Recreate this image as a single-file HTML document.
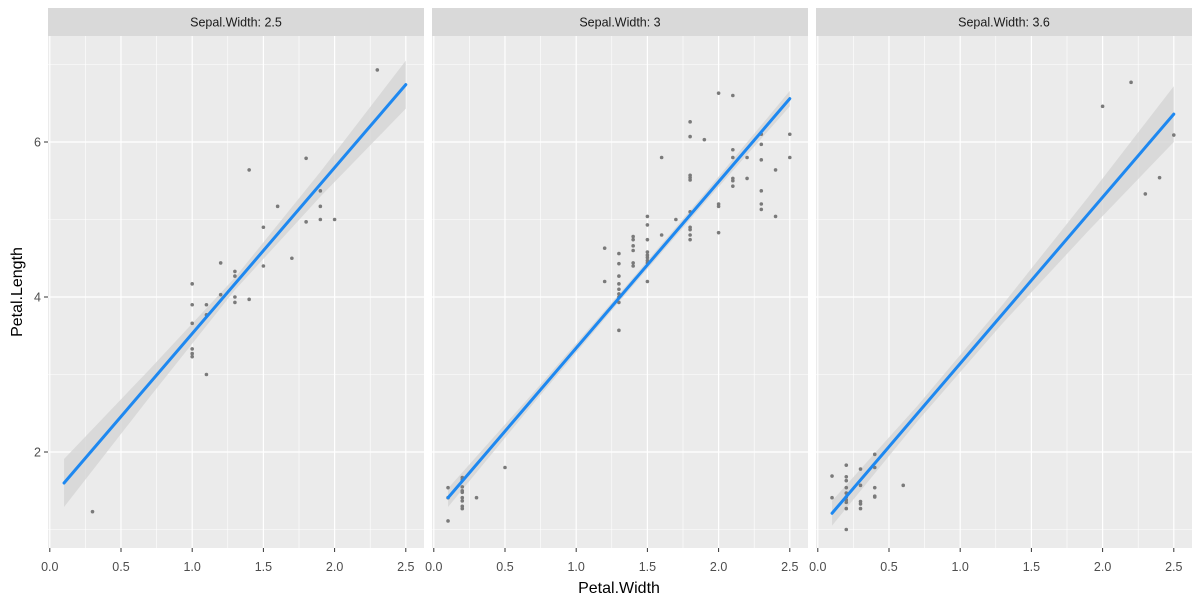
<!DOCTYPE html>
<html><head><meta charset="utf-8"><style>
html,body{margin:0;padding:0;background:#fff;}
svg{display:block;font-family:"Liberation Sans",Arial,sans-serif;}
</style></head><body>
<svg id="chart" width="1200" height="603" viewBox="0 0 1200 603"></svg>
<script>
const facetLabels = ["Sepal.Width: 2.5", "Sepal.Width: 3", "Sepal.Width: 3.6"];
const xTicks = [0.0, 0.5, 1.0, 1.5, 2.0, 2.5];
const xTickLabels = ["0.0", "0.5", "1.0", "1.5", "2.0", "2.5"];
const yTicks = [2, 4, 6];
const yTickLabels = ["2", "4", "6"];
const yMinor = [1, 3, 5, 7];
const xMinor = [0.25, 0.75, 1.25, 1.75, 2.25];

const p1x = [0.3,2.3,1.8,1.4,1.9,1.6,1.9,1.8,1.9,2.0,1.5,1.7,1.5,1.2,1.3,1.3,1.0,1.2,1.3,1.4,1.3,1.0,1.1,1.1,1.0,1.0,1.0,1.0,1.1];
const p1y = [1.23,6.93,5.79,5.64,5.37,5.17,5.17,4.97,5.0,5.0,4.9,4.5,4.4,4.44,4.33,4.27,4.17,4.03,4.0,3.97,3.93,3.9,3.9,3.77,3.66,3.33,3.27,3.23,3.0];
const p2x = [0.1,0.1,0.1,0.2,0.2,0.2,0.2,0.2,0.2,0.2,0.2,0.2,0.3,0.5,1.2,1.2,1.3,1.3,1.3,1.3,1.3,1.3,1.3,1.3,1.3,1.4,1.4,1.4,1.4,1.4,1.4,1.5,1.5,1.5,1.5,1.5,1.5,1.5,1.5,1.5,1.6,1.6,1.7,1.8,1.8,1.8,1.8,1.8,1.8,1.8,1.8,1.8,1.8,1.9,2.0,2.0,2.0,2.0,2.1,2.1,2.1,2.1,2.1,2.1,2.2,2.2,2.3,2.3,2.3,2.3,2.3,2.3,2.4,2.4,2.5,2.5];
const p2y = [1.54,1.41,1.11,1.67,1.64,1.55,1.5,1.48,1.41,1.37,1.3,1.27,1.41,1.8,4.63,4.2,4.56,4.43,4.27,4.17,4.1,4.04,4.0,3.93,3.57,4.78,4.74,4.66,4.6,4.44,4.4,5.04,4.93,4.74,4.58,4.54,4.51,4.47,4.44,4.2,5.8,4.8,5.0,6.26,6.07,5.57,5.54,5.51,5.1,4.9,4.87,4.8,4.74,6.03,6.63,5.2,5.17,4.83,6.6,5.9,5.8,5.53,5.5,5.43,5.8,5.53,6.1,5.97,5.77,5.37,5.2,5.13,5.64,5.04,6.1,5.8];
const p3x = [0.1,0.1,0.2,0.2,0.2,0.2,0.2,0.2,0.2,0.2,0.2,0.2,0.3,0.3,0.3,0.3,0.3,0.4,0.4,0.4,0.4,0.4,0.6,2.0,2.2,2.5,2.4,2.3];
const p3y = [1.69,1.41,1.83,1.68,1.63,1.54,1.47,1.42,1.38,1.35,1.27,1.0,1.78,1.57,1.36,1.33,1.27,1.97,1.8,1.54,1.43,1.42,1.57,6.46,6.77,6.09,5.54,5.33];

const fitStart = [1.6, 1.41, 1.21];
const fitEnd = [6.74, 6.56, 6.36];
const bandX = [0.1, 0.7, 1.3, 1.9, 2.5];
const band1 = [0.31, 0.18, 0.08, 0.16, 0.31];
const band2 = [0.12, 0.07, 0.05, 0.06, 0.10];
const band3 = [0.16, 0.10, 0.12, 0.22, 0.36];

const panelsX = [p1x, p2x, p3x], panelsY = [p1y, p2y, p3y], bands = [band1, band2, band3];
const NS = "http://www.w3.org/2000/svg";
const svg = document.getElementById("chart");
const panelLeft = [48, 432, 816], panelW = 376, panelTop = 36, panelBot = 548;
const xMin = -0.0126, pxPerX = 142.4;
function xs(p, v) { return panelLeft[p] + (v - xMin) * pxPerX; }
function ys(v) { return 452 - (v - 2) * 77.5; }
function mk(tag, attrs, parent) {
  const e = document.createElementNS(NS, tag);
  for (const k in attrs) e.setAttribute(k, attrs[k]);
  (parent || svg).appendChild(e);
  return e;
}

for (let p = 0; p < 3; p++) {
  const g = mk("g", {});
  
  
  const bg = mk("rect", {x: panelLeft[p], y: panelTop, width: panelW, height: panelBot - panelTop, fill: "#ebebeb"}, g);
  
  
  yMinor.forEach(v => mk("line", {x1: panelLeft[p], x2: panelLeft[p] + panelW, y1: ys(v), y2: ys(v), stroke: "#fff", "stroke-width": 0.6}, g));
  xMinor.forEach(v => mk("line", {x1: xs(p, v), x2: xs(p, v), y1: panelTop, y2: panelBot, stroke: "#fff", "stroke-width": 0.6}, g));
  yTicks.forEach(v => mk("line", {x1: panelLeft[p], x2: panelLeft[p] + panelW, y1: ys(v), y2: ys(v), stroke: "#fff", "stroke-width": 1.2}, g));
  xTicks.forEach(v => mk("line", {x1: xs(p, v), x2: xs(p, v), y1: panelTop, y2: panelBot, stroke: "#fff", "stroke-width": 1.2}, g));
  const st = mk("rect", {x: panelLeft[p], y: 8, width: panelW, height: 28, fill: "#d9d9d9"}, g);
  
  
  const stt = mk("text", {x: panelLeft[p] + panelW / 2, y: 26.5, "text-anchor": "middle", "font-size": 12.5, fill: "#1a1a1a"}, g);
  stt.textContent = facetLabels[p];
  
  
  const b = bands[p];
  const lineAt = v => fitStart[p] + (fitEnd[p] - fitStart[p]) * (v - 0.1) / 2.4;
  let up = [], lo = [];
  bandX.forEach((v, i) => { up.push(xs(p, v) + "," + ys(lineAt(v) + b[i])); lo.unshift(xs(p, v) + "," + ys(lineAt(v) - b[i])); });
  const band = mk("polygon", {points: up.concat(lo).join(" "), fill: "#d3d3d3", opacity: 0.75}, g);
  
  
  panelsX[p].forEach((v, i) => {
    const c = mk("circle", {cx: xs(p, v), cy: ys(panelsY[p][i]), r: 1.8, fill: "#7a7a7a"}, g);
    
    
  });
  const ln = mk("line", {x1: xs(p, 0.1), y1: ys(fitStart[p]), x2: xs(p, 2.5), y2: ys(fitEnd[p]), stroke: "#1e88f0", "stroke-width": 3, "stroke-linecap": "round"}, g);
  
  
  xTicks.forEach((v, i) => {
    mk("line", {x1: xs(p, v), x2: xs(p, v), y1: panelBot, y2: panelBot + 4, stroke: "#333", "stroke-width": 1}, g);
    const t = mk("text", {x: xs(p, v), y: 571, "text-anchor": "middle", "font-size": 12.5, fill: "#4d4d4d"}, g);
    t.textContent = xTickLabels[i];
    
    
  });
}
yTicks.forEach((v, i) => {
  mk("line", {x1: 44, x2: 48, y1: ys(v), y2: ys(v), stroke: "#333", "stroke-width": 1});
  const t = mk("text", {x: 41, y: ys(v) + 4.5, "text-anchor": "end", "font-size": 12.5, fill: "#4d4d4d"});
  t.textContent = yTickLabels[i];
  
  
});
const xt = mk("text", {x: 619, y: 593, "text-anchor": "middle", "font-size": 16, fill: "#000"});
xt.textContent = "Petal.Width";


const yt = mk("text", {x: 0, y: 0, "text-anchor": "middle", "font-size": 16, fill: "#000", transform: "translate(22,292) rotate(-90)"});
yt.textContent = "Petal.Length";


</script>
</body></html>
